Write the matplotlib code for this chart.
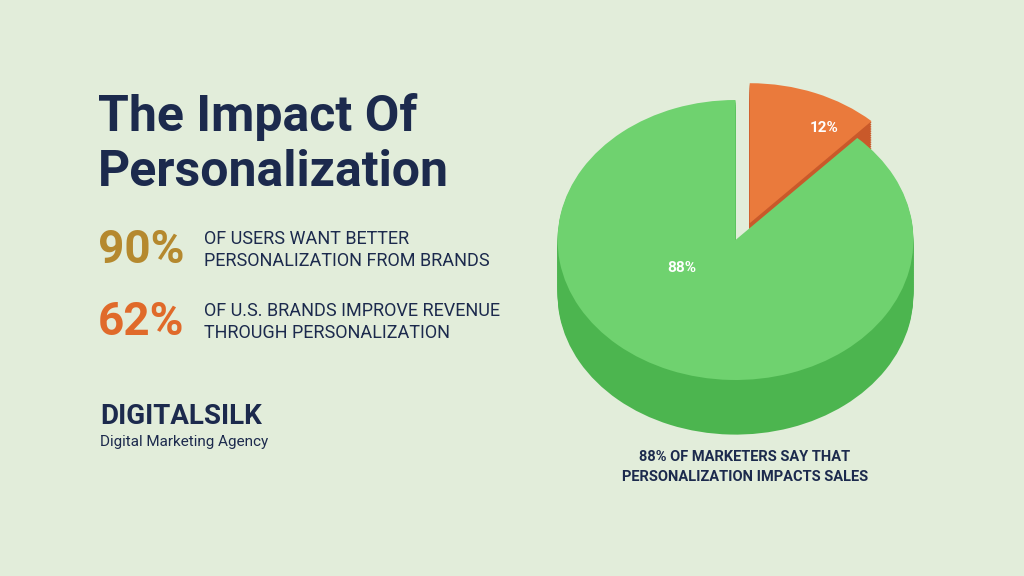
import matplotlib.pyplot as plt
from matplotlib.patches import Wedge
import numpy as np

plt.rcParams['font.family'] = ['Roboto', 'DejaVu Sans']

# data
slice_labels = ['88%', '12%']
slice_values = [88, 12]
slice_colors = ['#6fd26f', '#ea7a3c']
side_colors = ['#4cb54f', '#c9592a']
stats = ['90%', '62%']
stat_text = ['OF USERS WANT BETTER\nPERSONALIZATION FROM BRANDS',
             'OF U.S. BRANDS IMPROVE REVENUE\nTHROUGH PERSONALIZATION']
stat_colors = ['#b5892e', '#e06a2a']

navy = '#1c2a4d'
bg = '#e2edda'

fig = plt.figure(figsize=(10.24, 5.76), dpi=100, facecolor=bg)

# text layer in pixel coordinates
tx = fig.add_axes([0, 0, 1, 1])
tx.set_xlim(0, 1024)
tx.set_ylim(576, 0)
tx.axis('off')
tx.text(98, 117, 'The Impact Of', fontsize=36, fontweight='bold', color=navy, va='center')
tx.text(98, 172, 'Personalization', fontsize=36, fontweight='bold', color=navy, va='center')
for i, (s, t) in enumerate(zip(stats, stat_text)):
    y = 250 + i * 72
    tx.text(98, y, s, fontsize=33, fontweight='bold', color=stat_colors[i], va='center')
    tx.text(204, y, t, fontsize=13, color=navy, va='center', linespacing=1.35)
tx.text(100, 416, 'DIGITALSILK', fontsize=20, fontweight='bold', color=navy, va='center')
tx.text(100, 442, 'Digital Marketing Agency', fontsize=11, color=navy, va='center')
tx.text(745, 467, '88% OF MARKETERS SAY THAT\nPERSONALIZATION IMPACTS SALES',
        fontsize=10.5, fontweight='bold', color=navy, ha='center', va='center', linespacing=1.5)

# pseudo-3D pie
ax = fig.add_axes([522 / 1024, 1 - 492 / 576, 427 / 1024, 434 / 576])
ax.set_xlim(-1.2, 1.2)
ax.set_ylim(-1.8, 1.3)
ax.axis('off')

depth = 0.39
angles = np.cumsum([0] + slice_values) / sum(slice_values) * 360
orange = (90 - (angles[2] - angles[1]), 90)
green = (90, 90 - (angles[2] - angles[1]) + 360)
spans = [orange, green]
offsets = [(0.08, 0.12), (0.0, 0.0)]
sides = [side_colors[1], side_colors[0]]
tops = [slice_colors[1], slice_colors[0]]
for k in range(2):
    th1, th2 = spans[k]
    ox, oy = offsets[k]
    for d in np.linspace(depth, 0.01, 30):
        ax.add_patch(Wedge((ox, oy - d), 1, th1, th2, color=sides[k], lw=0))
    ax.add_patch(Wedge((ox, oy), 1, th1, th2, color=tops[k], lw=0))

ax.text(-0.3, -0.2, slice_labels[0], color='white', fontsize=11, fontweight='bold', ha='center', va='center')
ax.text(0.5, 0.8, slice_labels[1], color='white', fontsize=11, fontweight='bold', ha='center', va='center')

fig.savefig('out.png', dpi=100, facecolor=bg)
